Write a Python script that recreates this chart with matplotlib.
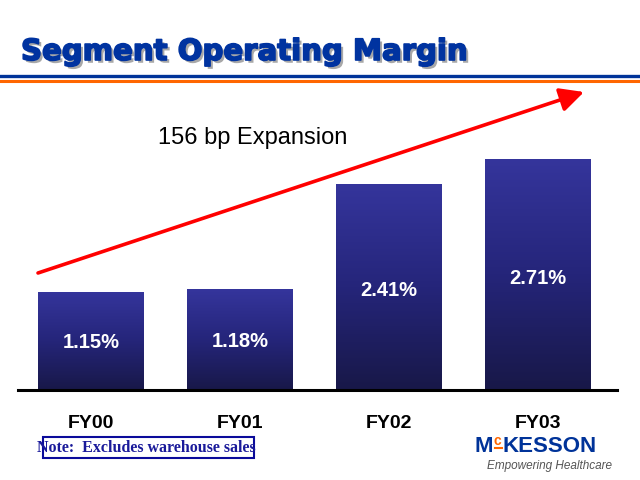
import numpy as np
import matplotlib
matplotlib.use("Agg")
import matplotlib.pyplot as plt
import matplotlib.patheffects as pe
from matplotlib.patches import Rectangle, FancyArrowPatch
from matplotlib.colors import LinearSegmentedColormap

categories = ["FY00", "FY01", "FY02", "FY03"]
margins = [1.15, 1.18, 2.41, 2.71]
labels = ["1.15%", "1.18%", "2.41%", "2.71%"]
title = "Segment Operating Margin"
annotation = "156 bp Expansion"
note = "Note:  Excludes warehouse sales"

fig = plt.figure(figsize=(6.4, 4.8), dpi=100)
W, H = 640, 480

def fx(px):
    return px / W

def fy(py):
    return 1 - py / H

# title with shadow
fig.text(fx(21), fy(52), title, fontsize=21, fontweight="bold", color="#0033a0",
         family="DejaVu Sans", va="center", ha="left",
         path_effects=[pe.withSimplePatchShadow(offset=(2, -2), shadow_rgbFace="#a8a8a8", alpha=1.0),
                       pe.withStroke(linewidth=1.2, foreground="#0033a0")])

# header lines
fig.add_artist(plt.Line2D([0, 1], [fy(75.5), fy(75.5)], color="#003399", lw=2.4, transform=fig.transFigure))
fig.add_artist(plt.Line2D([0, 1], [fy(80.5), fy(80.5)], color="#ff6600", lw=2.2, transform=fig.transFigure))

ax = fig.add_axes([fx(18), fy(390), fx(617) - fx(18), fy(134) - fy(390)])
for s in ["top", "right", "left"]:
    ax.spines[s].set_visible(False)
ax.spines["bottom"].set_linewidth(2.2)
ax.spines["bottom"].set_color("black")
ax.set_yticks([])
x = np.arange(len(categories))
ax.set_xticks(x)
ax.set_xticklabels(categories, fontsize=14, fontweight="bold", family="Liberation Sans")
ax.tick_params(axis="x", length=0, pad=18)

cmap = LinearSegmentedColormap.from_list("g", ["#181848", "#25257a", "#35359c"])
grad = np.linspace(0, 1, 256).reshape(-1, 1)
bars = ax.bar(x, margins, width=0.71, color="none", edgecolor="none")
for b in bars:
    x0, w, h = b.get_x(), b.get_width(), b.get_height()
    im = ax.imshow(grad, extent=[x0, x0 + w, 0, h], origin="lower", cmap=cmap,
                   aspect="auto", zorder=2)
    rect = Rectangle((x0, 0), w, h, transform=ax.transData, facecolor="none", edgecolor="none")
    ax.add_patch(rect)
    im.set_clip_path(rect)
ax.set_xlim(-0.49, 3.53)
ax.set_ylim(0, 3)

label_y = [0.56, 0.57, 1.17, 1.31]
for xi, lab, ly in zip(x, labels, label_y):
    ax.text(xi, ly, lab, color="white", fontsize=14.5, fontweight="bold",
            family="Liberation Sans", ha="center", va="center", zorder=3)

# arrow
arr = FancyArrowPatch((fx(38), fy(273)), (fx(584), fy(92)), transform=fig.transFigure,
                      arrowstyle="-|>,head_length=9,head_width=4.5", color="#ff0000",
                      lw=2.6, mutation_scale=1.6, shrinkA=0, shrinkB=0)
fig.add_artist(arr)

fig.text(fx(253), fy(138), annotation, fontsize=17, family="Liberation Sans",
         ha="center", va="center", color="black")

# note box
fig.add_artist(Rectangle((fx(43), fy(458)), fx(254) - fx(43), fy(437) - fy(458),
                         transform=fig.transFigure, facecolor="none", edgecolor="#0a0a9a", lw=1.5))
fig.text(fx(37), fy(448), note, fontsize=11.5, family="Liberation Serif", fontweight="bold",
         color="#1a1a9a", ha="left", va="center")

# logo
fig.text(fx(475), fy(446), "M", fontsize=16, fontweight="bold", color="#003399",
         family="Liberation Sans", ha="left", va="center")
fig.text(fx(494), fy(441), "c", fontsize=10, fontweight="bold", color="#ff6600",
         family="Liberation Sans", ha="left", va="center")
fig.add_artist(plt.Line2D([fx(495), fx(502)], [fy(448), fy(448)], color="#ff6600", lw=1.5,
                          transform=fig.transFigure))
fig.text(fx(503), fy(446), "KESSON", fontsize=16, fontweight="bold", color="#003399",
         family="Liberation Sans", ha="left", va="center")
fig.text(fx(612), fy(466), "Empowering Healthcare", fontsize=8.5, style="italic",
         color="#555555", family="Liberation Sans", ha="right", va="center")

fig.savefig("out.png", dpi=100)
